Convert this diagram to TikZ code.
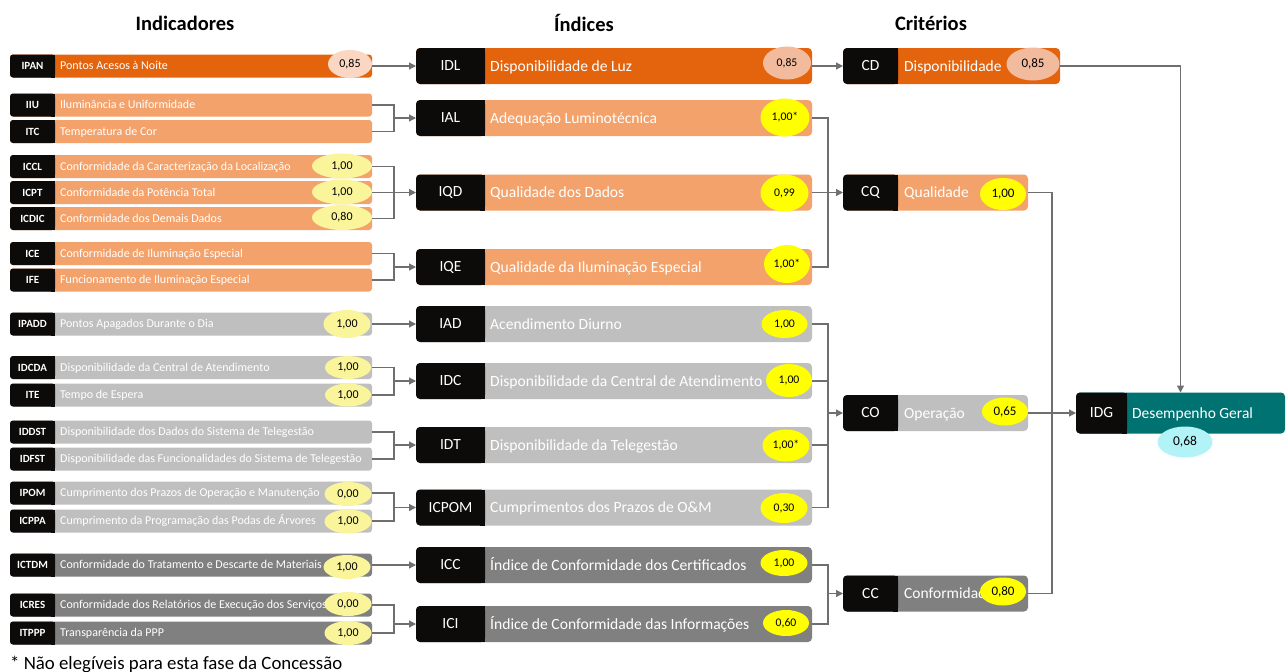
\documentclass[tikz,border=0pt]{standalone}
\usepackage{fontspec}
\setmainfont{Carlito}
\usetikzlibrary{shapes.geometric,arrows.meta,calc}
\definecolor{dorange}{HTML}{E4640E}
\definecolor{lorange}{HTML}{F4A26B}
\definecolor{lgray}{HTML}{BFBFBF}
\definecolor{dgray}{HTML}{808080}
\definecolor{lblack}{HTML}{0D0A0A}
\definecolor{tealbox}{HTML}{007272}
\definecolor{peachL}{HTML}{FBD7C3}
\definecolor{peachM}{HTML}{F3BB9E}
\definecolor{pyellow}{HTML}{FAF59B}
\definecolor{yel}{HTML}{FFFF00}
\definecolor{cyanE}{HTML}{B2F3F8}
\definecolor{conn}{HTML}{6F6F6F}
\newcommand{\fsz}[1]{\fontsize{#1}{#1}\selectfont}
\tikzset{
  boxbg/.style={rectangle, rounded corners=3pt, inner sep=0pt, outer sep=0pt},
  lab/.style={rectangle, rounded corners=3pt, fill=lblack, text=white, inner sep=0pt, outer sep=0pt},
  txt/.style={text=white, inner sep=0pt, anchor=base west},
  val/.style={ellipse, inner sep=0pt, outer sep=0pt, text=black},
  line/.style={draw=conn, line width=1.2pt},
  arr/.style={line, -{Triangle[length=7pt,width=7pt]}},
  hdr/.style={font=\fsz{20.5}\bfseries, text=black, inner sep=0pt},
}
\newcommand{\lbox}[5]{%
  \node[boxbg, fill=#3, minimum width=362pt, minimum height=23pt, anchor=west] (#1) at (10,#2) {};
  \node[lab, minimum width=45pt, minimum height=23pt, anchor=west, font=\fsz{11}\bfseries] (#1-l) at (10,#2) {#4};
  \fill[lblack] ([xshift=-4pt]#1-l.north east) rectangle (#1-l.south east);
  \node[txt, font=\fsz{12}, yshift=-3.9pt] (#1-t) at ([xshift=5pt]#1-l.east) {#5};
}
\newcommand{\mdbox}[5]{%
  \node[boxbg, rounded corners=4pt, fill=#3, minimum width=396pt, minimum height=36pt, anchor=west] (#1) at (416,#2) {};
  \node[lab, rounded corners=4pt, minimum width=69pt, minimum height=36pt, anchor=west, font=\fsz{15.5}] (#1-l) at (416,#2) {#4};
  \fill[lblack] ([xshift=-5pt]#1-l.north east) rectangle (#1-l.south east);
  \node[txt, font=\fsz{15.6}, yshift=-5pt] (#1-t) at ([xshift=5pt]#1-l.east) {#5};
}
\newcommand{\rbox}[6]{%
  \node[boxbg, rounded corners=4pt, fill=#3, minimum width=#6pt, minimum height=36pt, anchor=west] (#1) at (843,#2) {};
  \node[lab, rounded corners=4pt, minimum width=55pt, minimum height=36pt, anchor=west, font=\fsz{15.5}] (#1-l) at (843,#2) {#4};
  \fill[lblack] ([xshift=-5pt]#1-l.north east) rectangle (#1-l.south east);
  \node[txt, font=\fsz{15.5}, yshift=-5pt] (#1-t) at ([xshift=6pt]#1-l.east) {#5};
}
\newcommand{\vl}[8]{\node[val, fill=#6, minimum width=#4pt, minimum height=#5pt, font=\fsz{#7}] (#1) at (#2,#3) {#8};}

\begin{document}
\begin{tikzpicture}[x=1pt, y=-1pt]
\fill[white] (0,0) rectangle (1286,672);
\useasboundingbox (0,0) rectangle (1286,672);

% headers
\node[hdr] (h1) at (185,23) {Indicadores};
\node[hdr] (h2) at (584,23) {Índices};
\node[hdr] (h3) at (931,23) {Critérios};

% left column
\lbox{IPAN}{66}{dorange}{IPAN}{Pontos Acesos à Noite}
\lbox{IIU}{105}{lorange}{IIU}{Iluminância e Uniformidade}
\lbox{ITC}{131.5}{lorange}{ITC}{Temperatura de Cor}
\lbox{ICCL}{166.5}{lorange}{ICCL}{Conformidade da Caracterização da Localização}
\lbox{ICPT}{192.5}{lorange}{ICPT}{Conformidade da Potência Total}
\lbox{ICDIC}{218.5}{lorange}{ICDIC}{Conformidade dos Demais Dados}
\lbox{ICE}{253.5}{lorange}{ICE}{Conformidade de Iluminação Especial}
\lbox{IFE}{280}{lorange}{IFE}{Funcionamento de Iluminação Especial}
\lbox{IPADD}{324}{lgray}{IPADD}{Pontos Apagados Durante o Dia}
\lbox{IDCDA}{367.5}{lgray}{IDCDA}{Disponibilidade da Central de Atendimento}
\lbox{ITE}{395}{lgray}{ITE}{Tempo de Espera}
\lbox{IDDST}{432}{lgray}{IDDST}{Disponibilidade dos Dados do Sistema de Telegestão}
\lbox{IDFST}{459}{lgray}{IDFST}{Disponibilidade das Funcionalidades do Sistema de Telegestão}
\lbox{IPOM}{493}{lgray}{IPOM}{Cumprimento dos Prazos de Operação e Manutenção}
\lbox{ICPPA}{521}{lgray}{ICPPA}{Cumprimento da Programação das Podas de Árvores}
\lbox{ICTDM}{565}{dgray}{ICTDM}{Conformidade do Tratamento e Descarte de Materiais}
\lbox{ICRES}{605}{dgray}{ICRES}{Conformidade dos Relatórios de Execução dos Serviços}
\lbox{ITPPP}{633}{dgray}{ITPPP}{Transparência da PPP}

% middle column
\mdbox{IDL}{66}{dorange}{IDL}{Disponibilidade de Luz}
\mdbox{IAL}{118}{lorange}{IAL}{Adequação Luminotécnica}
\mdbox{IQD}{192.5}{lorange}{IQD}{Qualidade dos Dados}
\mdbox{IQE}{267}{lorange}{IQE}{Qualidade da Iluminação Especial}
\mdbox{IAD}{324}{lgray}{IAD}{Acendimento Diurno}
\mdbox{IDC}{381}{lgray}{IDC}{Disponibilidade da Central de Atendimento}
\mdbox{IDT}{445}{lgray}{IDT}{Disponibilidade da Telegestão}
\mdbox{ICPOM}{507.5}{lgray}{ICPOM}{Cumprimentos dos Prazos de O\&M}
\mdbox{ICC}{565}{dgray}{ICC}{Índice de Conformidade dos Certificados}
\mdbox{ICI}{624}{dgray}{ICI}{Índice de Conformidade das Informações}

% right column
\rbox{CD}{66}{dorange}{CD}{Disponibilidade}{217}
\rbox{CQ}{192.5}{lorange}{CQ}{Qualidade}{185}
\rbox{CO}{413}{lgray}{CO}{Operação}{185}
\rbox{CC}{593.5}{dgray}{CC}{Conformidade}{185}

% IDG
\node[boxbg, rounded corners=4pt, fill=tealbox, minimum width=209pt, minimum height=41pt, anchor=west] (IDG) at (1076,413) {};
\node[lab, rounded corners=4pt, minimum width=51pt, minimum height=41pt, anchor=west, font=\fsz{15.5}] (IDG-l) at (1076,413) {IDG};
\fill[lblack] ([xshift=-5pt]IDG-l.north east) rectangle (IDG-l.south east);
\node[txt, font=\fsz{15.5}, yshift=-5pt] (IDG-t) at ([xshift=5pt]IDG-l.east) {Desempenho Geral};

% connectors: left -> middle
\coordinate (bIAL) at (394,118);
\coordinate (bIQD) at (394,192.5);
\coordinate (bIQE) at (394,267);
\coordinate (bIDC) at (394,381);
\coordinate (bIDT) at (394,445);
\coordinate (bICPOM) at (394,507.5);
\coordinate (bICI) at (394,624);
\draw[arr] (IPAN.east) -- (IDL.west);
\draw[line] (IIU.east) -| (bIAL) |- (ITC.east);
\draw[arr] (bIAL) -- (IAL.west);
\draw[line] (ICCL.east) -| (bIQD) |- (ICDIC.east);
\draw[arr] (ICPT.east) -- (IQD.west);
\draw[line] (ICE.east) -| (bIQE) |- (IFE.east);
\draw[arr] (bIQE) -- (IQE.west);
\draw[arr] (IPADD.east) -- (IAD.west);
\draw[line] (IDCDA.east) -| (bIDC) |- (ITE.east);
\draw[arr] (bIDC) -- (IDC.west);
\draw[line] (IDDST.east) -| (bIDT) |- (IDFST.east);
\draw[arr] (bIDT) -- (IDT.west);
\draw[line] (IPOM.east) -| (bICPOM) |- (ICPPA.east);
\draw[arr] (bICPOM) -- (ICPOM.west);
\draw[arr] (ICTDM.east) -- (ICC.west);
\draw[line] (ICRES.east) -| (bICI) |- (ITPPP.east);
\draw[arr] (bICI) -- (ICI.west);

% middle -> right
\coordinate (bCQ) at (828,192.5);
\coordinate (bCO) at (828,413);
\coordinate (bCC) at (828,593.5);
\draw[arr] (IDL.east) -- (CD.west);
\draw[line] (IAL.east) -| (bCQ) |- (IQE.east);
\draw[arr] (IQD.east) -- (CQ.west);
\draw[line] (IAD.east) -| (bCO) |- (ICPOM.east);
\draw[line] (IDC.east) -- (IDC.east -| bCO);
\draw[line] (IDT.east) -- (IDT.east -| bCO);
\draw[arr] (bCO) -- (CO.west);
\draw[line] (ICC.east) -| (bCC) |- (ICI.east);
\draw[arr] (bCC) -- (CC.west);

% right -> IDG
\coordinate (bIDG) at (1052,413);
\draw[line] (CQ.east) -| (bIDG) |- (CC.east);
\draw[arr] (CO.east) -- (IDG.west);
\draw[arr] (CD.east) -| (IDG.north);

% value ellipses
\vl{vIPAN}{350}{64}{44}{28}{peachL}{12}{0,85}
\vl{vICCL}{342}{166}{60}{25}{pyellow}{12}{1,00}
\vl{vICPT}{342}{192}{60}{25}{pyellow}{12}{1,00}
\vl{vICDIC}{342}{217.5}{60}{25}{pyellow}{12}{0,80}
\vl{vIPADD}{347}{324}{47}{28}{pyellow}{12}{1,00}
\vl{vIDCDA}{348}{367.5}{46}{23}{pyellow}{12}{1,00}
\vl{vITE}{348}{395}{46}{23}{pyellow}{12}{1,00}
\vl{vIPOM}{348}{494}{47}{24}{pyellow}{12}{0,00}
\vl{vICPPA}{348}{521.5}{47}{24}{pyellow}{12}{1,00}
\vl{vICTDM}{347}{567}{47}{24}{pyellow}{12}{1,00}
\vl{vICRES}{348}{604}{47}{24}{pyellow}{12}{0,00}
\vl{vITPPP}{348}{633}{47}{24}{pyellow}{12}{1,00}

\vl{vIDL}{787}{63}{48}{33}{peachM}{11.7}{0,85}
\vl{vIAL}{785}{117.5}{49}{38}{yel}{11.7}{1,00*}
\vl{vIQD}{784.5}{193}{48}{37}{yel}{11.7}{0,99}
\vl{vIQE}{787}{264}{46}{38}{yel}{11.7}{1,00*}
\vl{vIAD}{784.5}{324}{46}{28}{yel}{11.7}{1,00}
\vl{vIDC}{789}{380.5}{46}{33}{yel}{11.7}{1,00}
\vl{vIDT}{786}{445.5}{47}{32}{yel}{11.7}{1,00*}
\vl{vICPOM}{784}{508}{47}{30}{yel}{11.7}{0,30}
\vl{vICC}{784}{563}{47}{26}{yel}{11.7}{1,00}
\vl{vICI}{786}{623}{46}{26}{yel}{11.7}{0,60}

\vl{vCD}{1033}{64}{53}{33}{peachM}{13}{0,85}
\vl{vCQ}{1003}{194}{46}{32}{yel}{13}{1,00}
\vl{vCO}{1005}{411.5}{46}{28}{yel}{13}{0,65}
\vl{vCC}{1003}{591.5}{46}{28}{yel}{13}{0,80}
\vl{vIDG}{1185}{442}{55}{31}{cyanE}{13.5}{0,68}

% footnote
\node[anchor=base west, inner sep=0pt, font=\fsz{18.8}] (fn) at (10,669.5) {* Não elegíveis para esta fase da Concessão};
\end{tikzpicture}
\end{document}
